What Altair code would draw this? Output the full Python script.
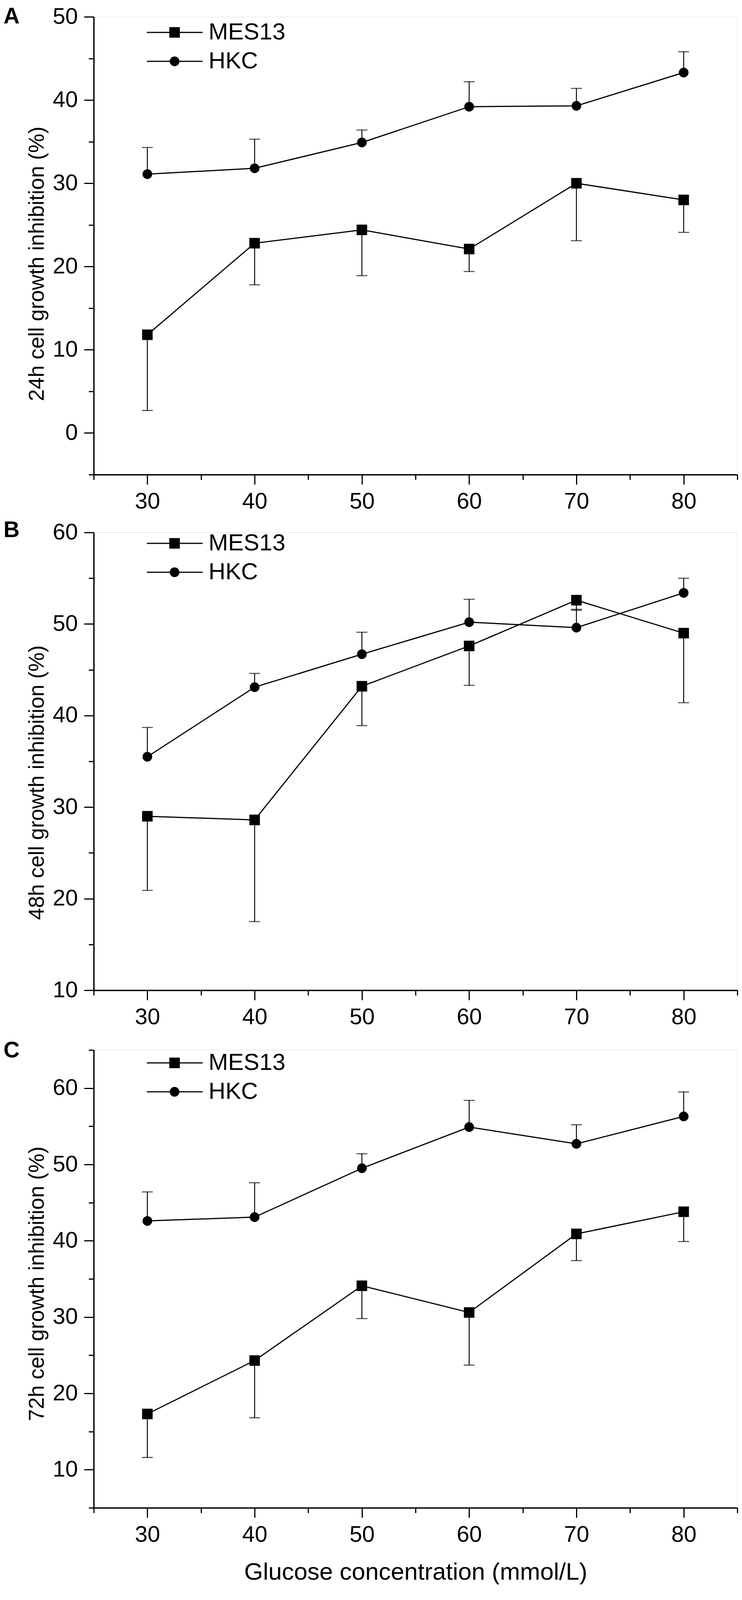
import altair as alt
import pandas as pd

conc = [30, 40, 50, 60, 70, 80]
series_names = ["MES13", "HKC"]

# Panel A (24h)
mes_a = [11.8, 22.8, 24.4, 22.1, 30.0, 28.0]
mes_a_low = [2.7, 17.8, 18.9, 19.4, 23.1, 24.1]
hkc_a = [31.1, 31.8, 34.9, 39.2, 39.3, 43.3]
hkc_a_high = [34.3, 35.3, 36.4, 42.2, 41.4, 45.8]

# Panel B (48h)
mes_b = [29.0, 28.6, 43.2, 47.6, 52.6, 49.0]
mes_b_low = [20.9, 17.5, 38.9, 43.3, 51.5, 41.4]
hkc_b = [35.5, 43.1, 46.7, 50.2, 49.6, 53.4]
hkc_b_high = [38.7, 44.6, 49.1, 52.7, 51.6, 55.0]

# Panel C (72h)
mes_c = [17.3, 24.3, 34.1, 30.6, 40.9, 43.8]
mes_c_low = [11.6, 16.8, 29.8, 23.7, 37.4, 39.9]
hkc_c = [42.6, 43.1, 49.5, 54.9, 52.7, 56.3]
hkc_c_high = [46.4, 47.6, 51.4, 58.4, 55.2, 59.5]

y_titles = ["24h cell growth inhibition (%)",
            "48h cell growth inhibition (%)",
            "72h cell growth inhibition (%)"]
x_title = "Glucose concentration (mmol/L)"
letters = ["A", "B", "C"]

FONT = "Liberation Sans, Arial, Helvetica, sans-serif"

W, H = 1648, 1172

minor_tick = {"condition": {"test": "datum.value % 10 === 0", "value": 25}, "value": 13}
major_label = "datum.value % 10 === 0 ? datum.label : ''"


def panel(mes, mes_lo, hkc, hkc_hi, ydom, ytitle, letter, title_y, legend_y, letter_y, show_xtitle):
    df = pd.DataFrame({
        "conc": conc + conc,
        "series": ["MES13"] * len(conc) + ["HKC"] * len(conc),
        "val": mes + hkc,
        "end": mes_lo + hkc_hi,
    })
    xaxis_kwargs = dict(
        values=list(range(25, 86, 5)), labelExpr=major_label, tickSize=minor_tick,
        labelFont=FONT, labelFontSize=58, labelColor="black", labelPadding=15,
        labelFlush=False, labelOverlap=False, grid=False,
        domainColor="black", domainWidth=3.5, tickColor="black", tickWidth=3,
    )
    if show_xtitle:
        xaxis = alt.Axis(title=x_title, titleFont=FONT, titleFontSize=62,
                         titleFontWeight="normal", titleColor="black",
                         titleY=183, titleBaseline="alphabetic", **xaxis_kwargs)
    else:
        xaxis = alt.Axis(title=None, **xaxis_kwargs)
    yaxis = alt.Axis(
        values=list(range(ydom[0], ydom[1] + 1, 5)), labelExpr=major_label, tickSize=minor_tick,
        labelFont=FONT, labelFontSize=58, labelColor="black", labelPadding=16,
        labelFlush=False, labelOverlap=False, grid=False,
        domainColor="black", domainWidth=3.5, tickColor="black", tickWidth=3,
        title=ytitle, titleFont=FONT, titleFontSize=55, titleFontWeight="normal",
        titleColor="black", titleX=-129, titleY=title_y, titleBaseline="alphabetic",
        titleAngle=270, titleAlign="center",
    )
    xs = alt.Scale(domain=[25, 85], nice=False, zero=False)
    ys = alt.Scale(domain=list(ydom), nice=False, zero=False)
    X = alt.X("conc:Q", scale=xs, axis=xaxis)
    Y = alt.Y("val:Q", scale=ys, axis=yaxis)
    base = alt.Chart(df)

    err = base.mark_rule(color="black", strokeWidth=2.4).encode(x=X, y=Y, y2="end:Q")
    caps = base.mark_tick(color="black", orient="horizontal", size=28, thickness=2.6).encode(
        x=X, y=alt.Y("end:Q", scale=ys, axis=yaxis))
    lines = base.mark_line(color="black", strokeWidth=3).encode(x=X, y=Y, detail="series:N")
    sq = base.transform_filter(alt.datum.series == "MES13").mark_point(
        shape="square", filled=True, color="black", size=729, opacity=1).encode(x=X, y=Y)
    ci = base.transform_filter(alt.datum.series == "HKC").mark_point(
        shape="circle", filled=True, color="black", size=616, opacity=1).encode(x=X, y=Y)
    main = alt.layer(err, caps, lines, sq, ci)

    # legend (line + marker + label per series)
    ldf = pd.DataFrame({"series": series_names, "row": [0, 1]})
    LY = alt.Y("row:Q", scale=alt.Scale(domain=[0, 1], range=[legend_y, legend_y + 74]), axis=None)
    lbase = alt.Chart(ldf)
    lrule = lbase.mark_rule(color="black", strokeWidth=3).encode(
        x=alt.value(136), x2=alt.value(279), y=LY)
    lpt = lbase.mark_point(filled=True, color="black", opacity=1).encode(
        x=alt.value(207), y=LY,
        shape=alt.Shape("series:N", scale=alt.Scale(domain=series_names, range=["square", "circle"]), legend=None),
        size=alt.Size("series:N", scale=alt.Scale(domain=series_names, range=[729, 616]), legend=None))
    ltxt = lbase.mark_text(align="left", baseline="middle", font=FONT, fontSize=60, color="black").encode(
        x=alt.value(294), y=LY, text="series:N")
    legend = alt.layer(lrule, lpt, ltxt)

    let = alt.Chart(pd.DataFrame({"t": [letter]})).mark_text(
        align="left", baseline="middle", font=FONT, fontSize=57, fontWeight="bold", color="black"
    ).encode(x=alt.value(-231), y=alt.value(letter_y), text="t:N")
    return alt.layer(main, legend, let).resolve_scale(y="independent").properties(width=W, height=H)


pa = panel(mes_a, mes_a_low, hkc_a, hkc_a_high, (-5, 50), y_titles[0], letters[0], 632, 40, 0, False)
pb = panel(mes_b, mes_b_low, hkc_b, hkc_b_high, (10, 60), y_titles[1], letters[1], 640, 28, -5, False)
pc = panel(mes_c, mes_c_low, hkc_c, hkc_c_high, (5, 65), y_titles[2], letters[2], 598, 33, 2, True)

top = alt.vconcat(pa, pb, spacing=14).resolve_scale(x="independent", y="independent")
chart = alt.vconcat(top, pc, spacing=24).resolve_scale(x="independent", y="independent").properties(
    padding={"top": 5, "left": 0, "right": 0, "bottom": 0}).configure_view(stroke=None).configure(background="white")

chart.save("out.html", embed_options={"renderer": "svg", "actions": False})
